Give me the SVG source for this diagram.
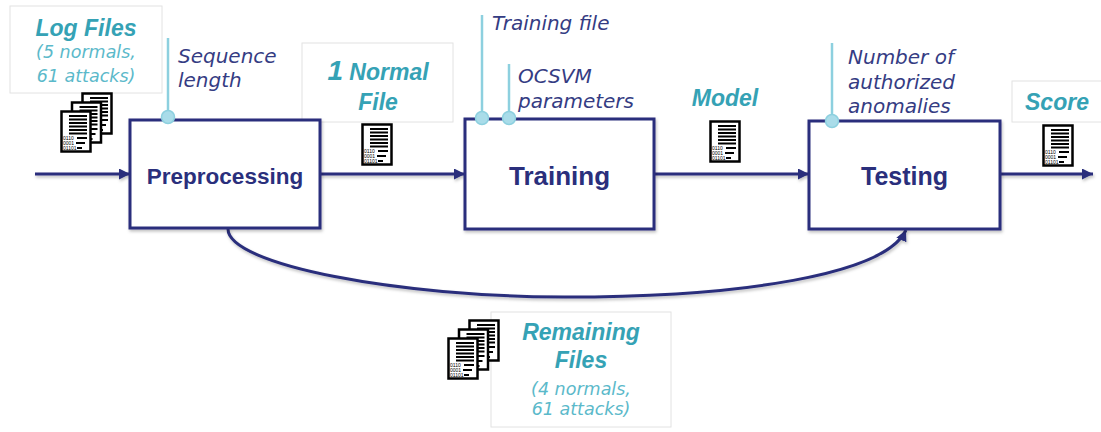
<svg xmlns="http://www.w3.org/2000/svg" xmlns:xlink="http://www.w3.org/1999/xlink" width="1101" height="432" viewBox="0 0 1101 432">
<style>
.box{fill:#fff;stroke:#2a2f7c;stroke-width:3}
.lbl{fill:#fff;stroke:#e2e2e2;stroke-width:1}
.btxt{font-family:"Liberation Sans",Arial,sans-serif;font-weight:bold;fill:#2a2f7c;text-anchor:middle}
.title{font-family:"Liberation Sans",Arial,sans-serif;font-weight:bold;font-style:italic;fill:#35a2b5;text-anchor:middle;font-size:23px}
.sub{font-family:"DejaVu Sans",sans-serif;font-style:italic;fill:#5bb9ca;text-anchor:middle;font-size:17.5px}
.par{font-family:"DejaVu Sans",sans-serif;font-style:italic;fill:#353c83;font-size:20px}
.pline{stroke:#8dd0df;stroke-width:2.5;fill:none}
.dot{fill:#a9dce9;stroke:#8dd0df;stroke-width:1.5}
.conn{stroke:#2a2f7c;stroke-width:3;fill:none}
.bin{font-family:"Liberation Sans",Arial,sans-serif;font-size:5px;fill:#000}
</style>
<defs>
<filter id="sh" filterUnits="userSpaceOnUse" x="0" y="0" width="1101" height="432">
<feDropShadow dx="1" dy="2" stdDeviation="1.5" flood-color="#000" flood-opacity="0.25"/>
</filter>
<marker id="arr" viewBox="0 0 10 10" refX="10" refY="5" markerWidth="11" markerHeight="11" markerUnits="userSpaceOnUse" orient="auto">
<path d="M0,0 L10,5 L0,10 z" fill="#2a2f7c"/>
</marker>
<g id="doc">
<rect x="1.5" y="1.5" width="29" height="40" fill="#fff" stroke="#000" stroke-width="2.5"/>
<path d="M9,6H27M9,9.5H27M9,13H27M9,16.5H27M9,20H27M9,23.5H27M17,28H27M16,33H25M17,38H22" stroke="#000" stroke-width="1.8"/>
<text class="bin" x="3" y="30">0110</text>
<text class="bin" x="3" y="35">0001</text>
<text class="bin" x="3" y="40">01101</text>
</g>
<g id="docs3">
<use xlink:href="#doc" x="21" y="0"/>
<use xlink:href="#doc" x="10.5" y="9"/>
<use xlink:href="#doc" x="0" y="18"/>
</g>
</defs>
<rect width="1101" height="432" fill="#fff"/>

<g id="log-files">
<rect class="lbl" x="10" y="6" width="152" height="87"/>
<text class="title" x="86" y="36" font-size="22">Log Files</text>
<text class="sub" x="86" y="58">(5 normals,</text>
<text class="sub" x="86" y="82">61 attacks)</text>
<use xlink:href="#docs3" x="60" y="92"/>
</g>

<g id="normal-file">
<rect class="lbl" x="302" y="43" width="151" height="79"/>
<text class="title" x="378" y="80"><tspan font-size="28">1</tspan> Normal</text>
<text class="title" x="378" y="110">File</text>
<use xlink:href="#doc" x="361" y="123"/>
</g>

<g id="model">
<text class="title" x="725" y="106" font-size="24">Model</text>
<use xlink:href="#doc" x="709" y="120"/>
</g>

<g id="score">
<rect class="lbl" x="1012" y="81" width="100" height="41"/>
<text class="title" x="1057" y="110">Score</text>
<use xlink:href="#doc" x="1042" y="124"/>
</g>

<g id="remaining-files">
<rect class="lbl" x="491" y="312" width="180" height="115"/>
<text class="title" x="581" y="340" font-size="24">Remaining</text>
<text class="title" x="581" y="368" font-size="24">Files</text>
<text class="sub" x="581" y="395">(4 normals,</text>
<text class="sub" x="581" y="415">61 attacks)</text>
<use xlink:href="#docs3" x="447" y="319"/>
</g>

<g id="connectors">
<path class="conn" filter="url(#sh)" marker-end="url(#arr)" d="M35,174 H130"/>
<path class="conn" filter="url(#sh)" marker-end="url(#arr)" d="M320,174 H465"/>
<path class="conn" filter="url(#sh)" marker-end="url(#arr)" d="M654,174 H809"/>
<path class="conn" filter="url(#sh)" marker-end="url(#arr)" d="M1000,174 H1093"/>
<path class="conn" filter="url(#sh)" marker-end="url(#arr)" d="M228,229 C228,265 400,297 565,297 C740,297 885,275 906,230"/>
</g>

<g id="preprocessing">
<rect class="box" filter="url(#sh)" x="130" y="120" width="190" height="108"/>
<text class="btxt" x="225" y="184" font-size="22.5">Preprocessing</text>
</g>

<g id="training">
<rect class="box" filter="url(#sh)" x="465" y="119" width="189" height="110"/>
<text class="btxt" x="559.5" y="185" font-size="26">Training</text>
</g>

<g id="testing">
<rect class="box" filter="url(#sh)" x="809" y="121" width="191" height="108"/>
<text class="btxt" x="904.5" y="185" font-size="25">Testing</text>
</g>

<g id="param-sequence-length">
<line class="pline" x1="168" y1="38" x2="168" y2="117"/>
<circle class="dot" cx="168" cy="117" r="6.5"/>
<text class="par" x="178" y="63">Sequence</text>
<text class="par" x="178" y="87">length</text>
</g>

<g id="param-training-file">
<line class="pline" x1="482" y1="15" x2="482" y2="118"/>
<circle class="dot" cx="482" cy="118" r="6.5"/>
<text class="par" x="492" y="30">Training file</text>
</g>

<g id="param-ocsvm">
<line class="pline" x1="509" y1="64" x2="509" y2="118"/>
<circle class="dot" cx="509" cy="118" r="6.5"/>
<text class="par" x="518" y="83">OCSVM</text>
<text class="par" x="518" y="108">parameters</text>
</g>

<g id="param-anomalies">
<line class="pline" x1="832" y1="43" x2="832" y2="121"/>
<circle class="dot" cx="832" cy="121" r="6.5"/>
<text class="par" x="848" y="64">Number of</text>
<text class="par" x="848" y="89">authorized</text>
<text class="par" x="848" y="113">anomalies</text>
</g>
</svg>
